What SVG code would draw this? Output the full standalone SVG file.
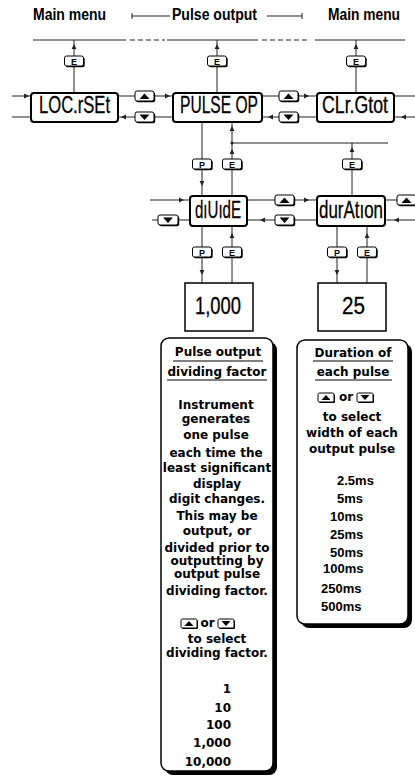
<svg xmlns="http://www.w3.org/2000/svg" width="415" height="780" viewBox="0 0 415 780">
<style>
.ln{stroke:#222;stroke-width:1;fill:none}
.dash{stroke:#222;stroke-width:1;fill:none;stroke-dasharray:5 3}
.node{fill:#fff;stroke:#000;stroke-width:2}
.val{fill:#fff;stroke:#000;stroke-width:1.5}
.nt{font-family:"Liberation Sans",Arial,sans-serif;font-size:23px;fill:#000;stroke:#000;stroke-width:0.3}
.hd{font-family:"Liberation Sans",Arial,sans-serif;font-weight:bold;font-size:16px;fill:#000}
.bsh{fill:#000}
.btn{fill:#fff;stroke:#000;stroke-width:1}
.bl{font-family:"Liberation Sans",Arial,sans-serif;font-weight:bold;font-size:9px;text-anchor:middle;fill:#000}
.tri{fill:#000}
.body{font-family:"DejaVu Sans",Verdana,sans-serif;font-weight:bold;font-size:12px;text-anchor:middle;fill:#000}
.num{font-family:"DejaVu Sans",Verdana,sans-serif;font-weight:bold;font-size:12px;text-anchor:end;fill:#000}
.ms{font-family:"Liberation Sans",Arial,sans-serif;font-weight:bold;font-size:13px;fill:#000}
.ul{stroke:#000;stroke-width:1.2}
.tbox{fill:#fff;stroke:#000;stroke-width:1.5}
</style>
<defs>
<marker id="ah" markerWidth="6" markerHeight="6" refX="5" refY="3" orient="auto" markerUnits="userSpaceOnUse"><path d="M0,0.6 L5,3 L0,5.4 z" fill="#222"/></marker>
</defs>
<rect width="415" height="780" fill="#fff"/>

<g id="headings">
<text class="hd" x="33" y="20" textLength="73" lengthAdjust="spacingAndGlyphs">Main menu</text>
<text class="hd" x="172" y="20" textLength="85" lengthAdjust="spacingAndGlyphs">Pulse output</text>
<text class="hd" x="328" y="20" textLength="72" lengthAdjust="spacingAndGlyphs">Main menu</text>
</g>

<g id="connectors">
<line class="ln" x1="132" y1="16" x2="170" y2="16"/>
<line class="ln" x1="132" y1="13" x2="132" y2="19"/>
<line class="ln" x1="267" y1="16" x2="302" y2="16"/>
<line class="ln" x1="302" y1="13" x2="302" y2="19"/>
<line class="ln" x1="33" y1="40" x2="126" y2="40"/>
<line class="dash" x1="130" y1="40" x2="165" y2="40"/>
<line class="ln" x1="167" y1="40" x2="258" y2="40"/>
<line class="dash" x1="262" y1="40" x2="310" y2="40"/>
<line class="ln" x1="315" y1="40" x2="405" y2="40"/>
<!-- E up lines -->
<line class="ln" x1="74" y1="93" x2="74" y2="44" marker-end="url(#ah)"/><line class="ln" x1="74" y1="44" x2="74" y2="40"/>
<line class="ln" x1="217" y1="93" x2="217" y2="44" marker-end="url(#ah)"/><line class="ln" x1="217" y1="44" x2="217" y2="40"/>
<line class="ln" x1="356" y1="93" x2="356" y2="44" marker-end="url(#ah)"/><line class="ln" x1="356" y1="44" x2="356" y2="40"/>
<!-- row 1 -->
<line class="ln" x1="12" y1="96" x2="29" y2="96" marker-end="url(#ah)"/><line class="ln" x1="29" y1="96" x2="31" y2="96"/>
<line class="ln" x1="12" y1="117" x2="31" y2="117"/>
<line class="ln" x1="118" y1="96" x2="135" y2="96"/>
<line class="ln" x1="155" y1="96" x2="170" y2="96" marker-end="url(#ah)"/><line class="ln" x1="170" y1="96" x2="173" y2="96"/>
<line class="ln" x1="173" y1="117" x2="155" y2="117"/>
<line class="ln" x1="135" y1="117" x2="121" y2="117" marker-end="url(#ah)"/><line class="ln" x1="121" y1="117" x2="118" y2="117"/>
<line class="ln" x1="262" y1="96" x2="279" y2="96"/>
<line class="ln" x1="299" y1="96" x2="309" y2="96" marker-end="url(#ah)"/><line class="ln" x1="309" y1="96" x2="317" y2="96"/>
<line class="ln" x1="317" y1="117" x2="299" y2="117"/>
<line class="ln" x1="279" y1="117" x2="268" y2="117" marker-end="url(#ah)"/><line class="ln" x1="268" y1="117" x2="262" y2="117"/>
<line class="ln" x1="394" y1="96" x2="415" y2="96"/>
<line class="ln" x1="415" y1="117" x2="401" y2="117" marker-end="url(#ah)"/><line class="ln" x1="401" y1="117" x2="394" y2="117"/>
<!-- PULSE OP to diUidE -->
<line class="ln" x1="202" y1="122" x2="202" y2="186" marker-end="url(#ah)"/><line class="ln" x1="202" y1="186" x2="202" y2="196"/>
<line class="ln" x1="232" y1="196" x2="232" y2="149" marker-end="url(#ah)"/>
<line class="ln" x1="232" y1="149" x2="232" y2="126" marker-end="url(#ah)"/><line class="ln" x1="232" y1="126" x2="232" y2="122"/>
<line class="ln" x1="232" y1="143" x2="388" y2="143"/>
<circle cx="232" cy="143" r="1.6" fill="#222"/>
<line class="ln" x1="352" y1="196" x2="352" y2="147" marker-end="url(#ah)"/><line class="ln" x1="352" y1="147" x2="352" y2="143"/>
<!-- row 2 -->
<line class="ln" x1="150" y1="200" x2="184" y2="200" marker-end="url(#ah)"/><line class="ln" x1="184" y1="200" x2="190" y2="200"/>
<line class="ln" x1="152" y1="220" x2="190" y2="220"/>
<line class="ln" x1="247" y1="200" x2="275" y2="200"/>
<line class="ln" x1="295" y1="200" x2="309" y2="200" marker-end="url(#ah)"/><line class="ln" x1="309" y1="200" x2="317" y2="200"/>
<line class="ln" x1="317" y1="220" x2="295" y2="220"/>
<line class="ln" x1="275" y1="220" x2="260" y2="220" marker-end="url(#ah)"/><line class="ln" x1="260" y1="220" x2="247" y2="220"/>
<line class="ln" x1="385" y1="200" x2="397" y2="200"/>
<line class="ln" x1="415" y1="220" x2="394" y2="220" marker-end="url(#ah)"/><line class="ln" x1="394" y1="220" x2="385" y2="220"/>
<!-- row 3 -->
<line class="ln" x1="202" y1="226" x2="202" y2="275" marker-end="url(#ah)"/><line class="ln" x1="202" y1="275" x2="202" y2="283"/>
<line class="ln" x1="232" y1="283" x2="232" y2="233" marker-end="url(#ah)"/><line class="ln" x1="232" y1="233" x2="232" y2="226"/>
<line class="ln" x1="337" y1="226" x2="337" y2="275" marker-end="url(#ah)"/><line class="ln" x1="337" y1="275" x2="337" y2="283"/>
<line class="ln" x1="367" y1="283" x2="367" y2="233" marker-end="url(#ah)"/><line class="ln" x1="367" y1="233" x2="367" y2="226"/>
</g>

<g id="buttons">
<g id="btn-e-loc"><rect class="bsh" x="65.7" y="57.2" width="19" height="10" rx="2"/><rect class="btn" x="64.5" y="56" width="19" height="10" rx="2"/><text class="bl" x="74" y="64.5">E</text></g>
<g id="btn-e-pulse"><rect class="bsh" x="208.7" y="57.2" width="19" height="10" rx="2"/><rect class="btn" x="207.5" y="56" width="19" height="10" rx="2"/><text class="bl" x="217" y="64.5">E</text></g>
<g id="btn-e-clr"><rect class="bsh" x="347.7" y="57.2" width="19" height="10" rx="2"/><rect class="btn" x="346.5" y="56" width="19" height="10" rx="2"/><text class="bl" x="356" y="64.5">E</text></g>

<g id="btn-up-1"><rect class="bsh" x="136.2" y="92.2" width="19" height="10" rx="2"/><rect class="btn" x="135" y="91" width="19" height="10" rx="2"/><path class="tri" d="M139.5,99 L144.5,93.5 L149.5,99 z"/></g>
<g id="btn-dn-1"><rect class="bsh" x="136.2" y="113.2" width="19" height="10" rx="2"/><rect class="btn" x="135" y="112" width="19" height="10" rx="2"/><path class="tri" d="M139.5,114.5 L149.5,114.5 L144.5,120 z"/></g>
<g id="btn-up-2"><rect class="bsh" x="280.2" y="92.2" width="19" height="10" rx="2"/><rect class="btn" x="279" y="91" width="19" height="10" rx="2"/><path class="tri" d="M283.5,99 L288.5,93.5 L293.5,99 z"/></g>
<g id="btn-dn-2"><rect class="bsh" x="280.2" y="113.2" width="19" height="10" rx="2"/><rect class="btn" x="279" y="112" width="19" height="10" rx="2"/><path class="tri" d="M283.5,114.5 L293.5,114.5 L288.5,120 z"/></g>

<g id="btn-p-1"><rect class="bsh" x="193.7" y="160.2" width="19" height="10" rx="2"/><rect class="btn" x="192.5" y="159" width="19" height="10" rx="2"/><text class="bl" x="202" y="167.5">P</text></g>
<g id="btn-e-1"><rect class="bsh" x="223.7" y="160.2" width="19" height="10" rx="2"/><rect class="btn" x="222.5" y="159" width="19" height="10" rx="2"/><text class="bl" x="232" y="167.5">E</text></g>
<g id="btn-e-dur"><rect class="bsh" x="343.7" y="160.2" width="19" height="10" rx="2"/><rect class="btn" x="342.5" y="159" width="19" height="10" rx="2"/><text class="bl" x="352" y="167.5">E</text></g>

<g id="btn-dn-3"><rect class="bsh" x="159.2" y="216.2" width="20" height="10" rx="2"/><rect class="btn" x="158" y="215" width="20" height="10" rx="2"/><path class="tri" d="M163,217.5 L173,217.5 L168,223 z"/></g>
<g id="btn-up-4"><rect class="bsh" x="276.2" y="196.2" width="19" height="10" rx="2"/><rect class="btn" x="275" y="195" width="19" height="10" rx="2"/><path class="tri" d="M279.5,203 L284.5,197.5 L289.5,203 z"/></g>
<g id="btn-dn-4"><rect class="bsh" x="276.2" y="216.2" width="19" height="10" rx="2"/><rect class="btn" x="275" y="215" width="19" height="10" rx="2"/><path class="tri" d="M279.5,217.5 L289.5,217.5 L284.5,223 z"/></g>
<g id="btn-up-5"><rect class="bsh" x="398.2" y="196.2" width="19" height="10" rx="2"/><rect class="btn" x="397" y="195" width="19" height="10" rx="2"/><path class="tri" d="M401.5,203 L406.5,197.5 L411.5,203 z"/></g>

<g id="btn-p-2"><rect class="bsh" x="193.7" y="248.2" width="19" height="10" rx="2"/><rect class="btn" x="192.5" y="247" width="19" height="10" rx="2"/><text class="bl" x="202" y="255.5">P</text></g>
<g id="btn-e-2"><rect class="bsh" x="223.7" y="248.2" width="19" height="10" rx="2"/><rect class="btn" x="222.5" y="247" width="19" height="10" rx="2"/><text class="bl" x="232" y="255.5">E</text></g>
<g id="btn-p-3"><rect class="bsh" x="328.7" y="248.2" width="19" height="10" rx="2"/><rect class="btn" x="327.5" y="247" width="19" height="10" rx="2"/><text class="bl" x="337" y="255.5">P</text></g>
<g id="btn-e-3"><rect class="bsh" x="358.7" y="248.2" width="19" height="10" rx="2"/><rect class="btn" x="357.5" y="247" width="19" height="10" rx="2"/><text class="bl" x="367" y="255.5">E</text></g>
</g>

<g id="node-locrset"><rect class="node" x="31" y="93" width="87" height="29" rx="3"/><text class="nt" x="39" y="113" textLength="71" lengthAdjust="spacingAndGlyphs">LOC.rSEt</text></g>
<g id="node-pulseop"><rect class="node" x="173" y="93" width="89" height="29" rx="3"/><text class="nt" x="180" y="113" textLength="78" lengthAdjust="spacingAndGlyphs">PULSE OP</text></g>
<g id="node-clrgtot"><rect class="node" x="317" y="93" width="77" height="29" rx="3"/><text class="nt" x="322" y="113" textLength="66" lengthAdjust="spacingAndGlyphs">CLr.Gtot</text></g>
<g id="node-divide"><rect class="node" x="190" y="196" width="57" height="30" rx="3"/><text class="nt" x="195" y="218" textLength="46" lengthAdjust="spacingAndGlyphs">dıUıdE</text></g>
<g id="node-duration"><rect class="node" x="317" y="196" width="68" height="30" rx="3"/><text class="nt" x="319" y="218" textLength="64" lengthAdjust="spacingAndGlyphs">durAtıon</text></g>
<g id="node-1000"><rect class="val" x="185" y="283" width="68" height="48"/><text class="nt" x="195" y="314" font-size="21" textLength="46" lengthAdjust="spacingAndGlyphs">1,000</text></g>
<g id="node-25"><rect class="val" x="318" y="283" width="68" height="48"/><text class="nt" x="342" y="314" font-size="21" textLength="23" lengthAdjust="spacingAndGlyphs">25</text></g>

<g id="note-dividing">
<rect class="bsh" x="165" y="342" width="112" height="433" rx="8"/>
<rect class="tbox" x="161" y="338" width="112" height="433" rx="8"/>
<text class="body" x="218" y="356" font-size="12.5">Pulse output</text>
<line class="ul" x1="173" y1="361" x2="263" y2="361"/>
<text class="body" x="217" y="376" font-size="12.5">dividing factor</text>
<line class="ul" x1="167" y1="380" x2="267" y2="380"/>
<text class="body" x="216" y="409">Instrument</text>
<text class="body" x="216" y="423">generates</text>
<text class="body" x="216" y="439">one pulse</text>
<text class="body" x="216" y="457">each time the</text>
<text class="body" x="217" y="472">least significant</text>
<text class="body" x="217" y="488">display</text>
<text class="body" x="217" y="503">digit changes.</text>
<text class="body" x="217" y="520">This may be</text>
<text class="body" x="217" y="535">output, or</text>
<text class="body" x="217" y="552">divided prior to</text>
<text class="body" x="217" y="565">outputting by</text>
<text class="body" x="217" y="578">output pulse</text>
<text class="body" x="217" y="595">dividing factor.</text>
<rect class="bsh" x="182" y="620" width="16" height="9" rx="1.5"/>
<rect class="btn" x="181" y="619" width="16" height="9" rx="1.5"/>
<path class="tri" d="M184.5,626 L189,621 L193.5,626 z"/>
<text class="body" x="207.5" y="627">or</text>
<rect class="bsh" x="219" y="620" width="16" height="9" rx="1.5"/>
<rect class="btn" x="218" y="619" width="16" height="9" rx="1.5"/>
<path class="tri" d="M221.5,621 L230.5,621 L226,626 z"/>
<text class="body" x="217" y="643">to select</text>
<text class="body" x="217" y="657">dividing factor.</text>
<text class="num" x="231" y="693">1</text>
<text class="num" x="231" y="712">10</text>
<text class="num" x="231" y="729">100</text>
<text class="num" x="231" y="747">1,000</text>
<text class="num" x="231" y="766">10,000</text>
</g>

<g id="note-duration">
<rect class="bsh" x="301" y="344" width="111" height="284" rx="8"/>
<rect class="tbox" x="297" y="340" width="111" height="284" rx="8"/>
<text class="body" x="353" y="357" font-size="12.5">Duration of</text>
<line class="ul" x1="313" y1="361" x2="393" y2="361"/>
<text class="body" x="353" y="376" font-size="12.5">each pulse</text>
<line class="ul" x1="315" y1="380" x2="392" y2="380"/>
<rect class="bsh" x="319" y="394" width="16" height="9" rx="1.5"/>
<rect class="btn" x="318" y="393" width="16" height="9" rx="1.5"/>
<path class="tri" d="M321.5,400 L326,395 L330.5,400 z"/>
<text class="body" x="346" y="401">or</text>
<rect class="bsh" x="358" y="394" width="16" height="9" rx="1.5"/>
<rect class="btn" x="357" y="393" width="16" height="9" rx="1.5"/>
<path class="tri" d="M360.5,395 L369.5,395 L365,400 z"/>
<text class="body" x="352" y="421">to select</text>
<text class="body" x="352" y="437">width of each</text>
<text class="body" x="352" y="453">output pulse</text>
<text class="ms" x="337" y="485">2.5ms</text>
<text class="ms" x="337" y="503">5ms</text>
<text class="ms" x="330" y="521">10ms</text>
<text class="ms" x="330" y="539">25ms</text>
<text class="ms" x="330" y="557">50ms</text>
<text class="ms" x="323" y="573">100ms</text>
<text class="ms" x="321" y="593">250ms</text>
<text class="ms" x="321" y="611">500ms</text>
</g>
</svg>
